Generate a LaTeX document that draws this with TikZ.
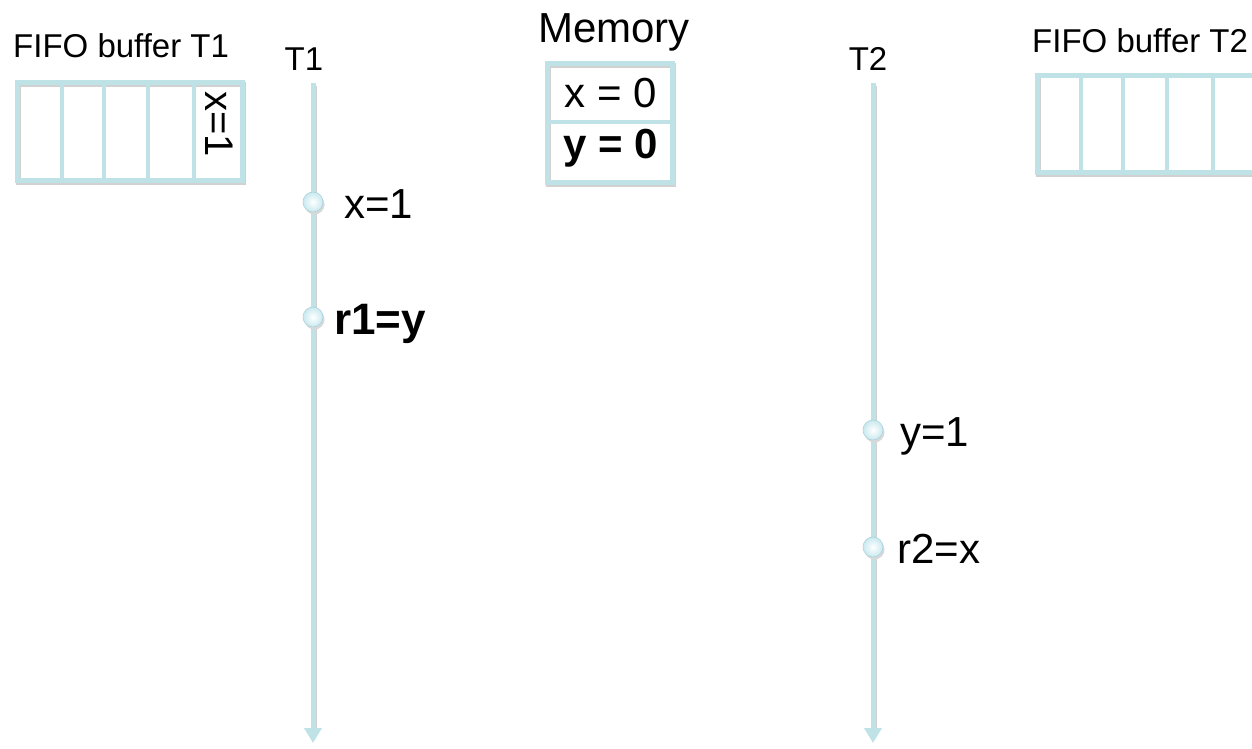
\documentclass[tikz,border=0pt]{standalone}
\usepackage{fontspec}
\setmainfont{Liberation Sans}
\usetikzlibrary{arrows.meta}
\definecolor{lb}{HTML}{BFE2E6}
\definecolor{dotfill}{HTML}{C9E9EF}
\definecolor{dotedge}{HTML}{A9D3DA}
\begin{document}
\begin{tikzpicture}[x=1pt,y=-1pt,
  bufline/.style={draw=lb, line width=5pt},
  divline/.style={draw=lb, line width=4pt},
  shadowed/.style={transform canvas={xshift=1.5pt,yshift=-2.5pt}, draw=black!18},
  timeline/.style={draw=lb, line width=5pt, -{Triangle[width=17pt,length=15pt]}},
  evdot/.style={circle, minimum size=20pt, inner sep=0pt, draw=dotedge, line width=0.6pt, inner color=white, outer color=dotfill},
  dotshadow/.style={circle, minimum size=20pt, inner sep=0pt, fill=black!15},
  lbl/.style={font=\fontsize{42}{50}\selectfont, anchor=base west, inner sep=0pt},
  title/.style={font=\fontsize{33}{40}\selectfont, anchor=base west, inner sep=0pt},
  tlabel/.style={font=\fontsize{33}{40}\selectfont, anchor=base, inner sep=0pt},
  memtxt/.style={font=\fontsize{42}{50}\selectfont, anchor=base, inner sep=0pt}
]
\useasboundingbox (0,0) rectangle (1252,748);

% ---------- FIFO buffer T1 ----------
\node[title] (fifo1) at (13,57) {FIFO buffer T1};
\draw[shadowed, line width=5pt] (17,82) rectangle (242,180);
\draw[bufline] (17,82) rectangle (242,180);
\foreach \x in {62,104,148,194} \draw[divline] (\x,82) -- (\x,180);
\node[font=\fontsize{40}{48}\selectfont, rotate=-90, inner sep=0pt] (bx1) at (219,124) {x=1};

% ---------- FIFO buffer T2 ----------
\node[title] (fifo2) at (1032,52) {FIFO buffer T2};
\draw[shadowed, line width=5pt] (1037,75) -- (1037,172) -- (1262,172);
\draw[bufline] (1262,75) -- (1037,75) -- (1037,172) -- (1262,172);
\foreach \x in {1081,1123,1167,1213} \draw[divline] (\x,75) -- (\x,172);

% ---------- Memory ----------
\node[font=\fontsize{42}{50}\selectfont, anchor=base, inner sep=0pt] (memlbl) at (614,42) {Memory};
\draw[shadowed, line width=5pt] (547,63) rectangle (672,182);
\draw[bufline] (547,63) rectangle (672,182);
\draw[divline] (547,122) -- (672,122);
\node[memtxt] (mx) at (611,107) {x = 0};
\node[memtxt, font=\fontsize{42}{50}\selectfont\bfseries] (my) at (611,158) {y = 0};

% ---------- Thread T1 ----------
\node[tlabel] (t1) at (304,70) {T1};
\coordinate (t1top) at (313,83);
\coordinate (t1bot) at (313,743);
\draw[shadowed, line width=5pt] (t1top) -- (313,730);
\draw[timeline] (t1top) -- (t1bot);
\node[dotshadow] at (314.5,204.5) {};
\node[evdot] (e1) at (313,202) {};
\node[dotshadow] at (314.5,319.5) {};
\node[evdot] (e2) at (313,317) {};
\node[lbl] (l1) at (344,218) {x=1};
\node[lbl, font=\fontsize{44}{52}\selectfont\bfseries] (l2) at (334,334) {r1=y};

% ---------- Thread T2 ----------
\node[tlabel] (t2) at (868,70) {T2};
\coordinate (t2top) at (873,83);
\coordinate (t2bot) at (873,743);
\draw[shadowed, line width=5pt] (t2top) -- (873,730);
\draw[timeline] (t2top) -- (t2bot);
\node[dotshadow] at (874.5,432.5) {};
\node[evdot] (e3) at (873,430) {};
\node[dotshadow] at (874.5,549.5) {};
\node[evdot] (e4) at (873,547) {};
\node[lbl] (l3) at (900,446) {y=1};
\node[lbl] (l4) at (897,563) {r2=x};
\end{tikzpicture}
\end{document}
